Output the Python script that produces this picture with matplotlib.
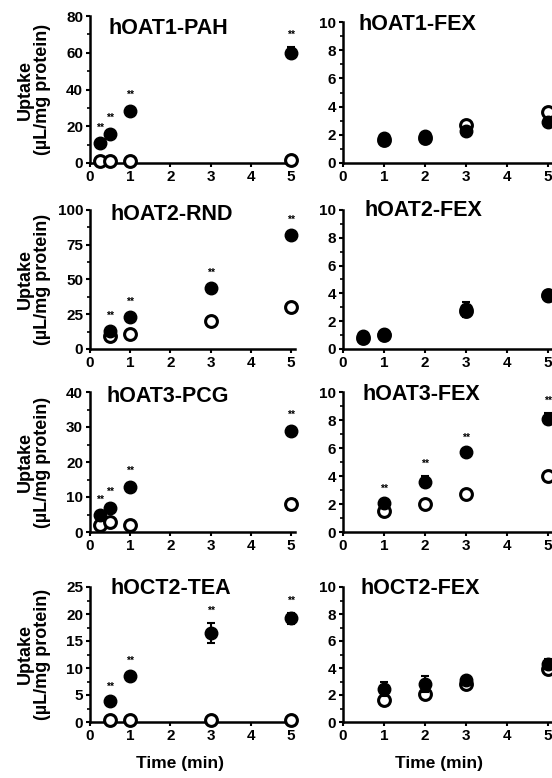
import matplotlib
matplotlib.use("Agg")
import matplotlib.pyplot as plt
from matplotlib.ticker import AutoMinorLocator

plt.rcParams["font.family"] = ["Liberation Sans", "DejaVu Sans"]
plt.rcParams["font.weight"] = "bold"

W, H = 552, 778

# ---- data ----
titles = ["hOAT1-PAH", "hOAT1-FEX", "hOAT2-RND", "hOAT2-FEX",
          "hOAT3-PCG", "hOAT3-FEX", "hOCT2-TEA", "hOCT2-FEX"]

oat1_pah_x = [0.25, 0.5, 1, 5]
oat1_pah_filled = [11, 16, 28.5, 60]
oat1_pah_filled_err = [1.5, 2, 2, 3]
oat1_pah_open = [1, 1, 1, 1.5]
oat1_pah_open_err = [0, 0, 0, 0]
oat1_pah_sig = [True, True, True, True]

oat1_fex_x = [1, 2, 3, 5]
oat1_fex_filled = [1.75, 1.9, 2.3, 2.9]
oat1_fex_filled_err = [0.2, 0.2, 0.2, 0.2]
oat1_fex_open = [1.6, 1.8, 2.7, 3.6]
oat1_fex_open_err = [0, 0, 0, 0]
oat1_fex_sig = [False, False, False, False]

oat2_rnd_x = [0.5, 1, 3, 5]
oat2_rnd_filled = [13, 23, 44, 82]
oat2_rnd_filled_err = [2, 2, 2, 2]
oat2_rnd_open = [9, 11, 20, 30]
oat2_rnd_open_err = [0, 0, 0, 0]
oat2_rnd_sig = [True, True, True, True]

oat2_fex_x = [0.5, 1, 3, 5]
oat2_fex_filled = [0.9, 1.05, 2.85, 3.8]
oat2_fex_filled_err = [0.1, 0.1, 0.55, 0.2]
oat2_fex_open = [0.8, 1.0, 2.7, 3.9]
oat2_fex_open_err = [0, 0, 0, 0]
oat2_fex_sig = [False, False, False, False]

oat3_pcg_x = [0.25, 0.5, 1, 5]
oat3_pcg_filled = [5, 7, 13, 29]
oat3_pcg_filled_err = [0.8, 1, 1, 1]
oat3_pcg_open = [2, 3, 2, 8]
oat3_pcg_open_err = [0, 0, 0, 1.5]
oat3_pcg_sig = [True, True, True, True]

oat3_fex_x = [1, 2, 3, 5]
oat3_fex_filled = [2.05, 3.6, 5.7, 8.1]
oat3_fex_filled_err = [0.2, 0.4, 0.2, 0.4]
oat3_fex_open = [1.5, 2.0, 2.7, 4.0]
oat3_fex_open_err = [0, 0, 0, 0.2]
oat3_fex_sig = [True, True, True, True]

oct2_tea_x = [0.5, 1, 3, 5]
oct2_tea_filled = [3.9, 8.6, 16.5, 19.2]
oct2_tea_filled_err = [0.4, 0.5, 1.8, 1.0]
oct2_tea_open = [0.3, 0.3, 0.3, 0.4]
oct2_tea_open_err = [0, 0, 0, 0]
oct2_tea_sig = [True, True, True, True]

oct2_fex_x = [1, 2, 3, 5]
oct2_fex_filled = [2.45, 2.8, 3.1, 4.3]
oct2_fex_filled_err = [0.5, 0.6, 0.2, 0.35]
oct2_fex_open = [1.6, 2.1, 2.8, 3.9]
oct2_fex_open_err = [0, 0, 0, 0]
oct2_fex_sig = [False, False, False, False]

y_max = [80, 10, 100, 10, 40, 10, 25, 10]
y_ticks = [
    [0, 20, 40, 60, 80], [0, 2, 4, 6, 8, 10],
    [0, 25, 50, 75, 100], [0, 2, 4, 6, 8, 10],
    [0, 10, 20, 30, 40], [0, 2, 4, 6, 8, 10],
    [0, 5, 10, 15, 20, 25], [0, 2, 4, 6, 8, 10],
]
x_ticks = [0, 1, 2, 3, 4, 5]

panels = [
    (oat1_pah_x, oat1_pah_filled, oat1_pah_filled_err, oat1_pah_open, oat1_pah_open_err, oat1_pah_sig),
    (oat1_fex_x, oat1_fex_filled, oat1_fex_filled_err, oat1_fex_open, oat1_fex_open_err, oat1_fex_sig),
    (oat2_rnd_x, oat2_rnd_filled, oat2_rnd_filled_err, oat2_rnd_open, oat2_rnd_open_err, oat2_rnd_sig),
    (oat2_fex_x, oat2_fex_filled, oat2_fex_filled_err, oat2_fex_open, oat2_fex_open_err, oat2_fex_sig),
    (oat3_pcg_x, oat3_pcg_filled, oat3_pcg_filled_err, oat3_pcg_open, oat3_pcg_open_err, oat3_pcg_sig),
    (oat3_fex_x, oat3_fex_filled, oat3_fex_filled_err, oat3_fex_open, oat3_fex_open_err, oat3_fex_sig),
    (oct2_tea_x, oct2_tea_filled, oct2_tea_filled_err, oct2_tea_open, oct2_tea_open_err, oct2_tea_sig),
    (oct2_fex_x, oct2_fex_filled, oct2_fex_filled_err, oct2_fex_open, oct2_fex_open_err, oct2_fex_sig),
]

# ---- layout in pixels ----
col_x = [(90, 295), (343, 552)]
row_y = [(16, 163), (210, 349), (392, 532), (587, 722)]
title_px = [(108, 28), (358, 25), (110, 215), (364, 210),
            (107, 397), (363, 395), (110, 589), (361, 589)]


def rect(x0, x1, top, bottom):
    return [x0 / W, 1 - bottom / H, (x1 - x0) / W, (bottom - top) / H]


fig = plt.figure(figsize=(W / 100, H / 100), dpi=100)

for i, (x, filled, ferr, opened, oerr, sig) in enumerate(panels):
    row, col = divmod(i, 2)
    top, bottom = row_y[row]
    if row == 0 and col == 1:
        top = 22
    ax = fig.add_axes(rect(*col_x[col], top, bottom))

    ax.errorbar(x, opened, yerr=oerr, fmt="o", ms=8.5, mfc="white", mec="black",
                mew=2.2, ecolor="black", elinewidth=1.5, capsize=3, capthick=1.5,
                clip_on=False, zorder=3)
    ax.errorbar(x, filled, yerr=ferr, fmt="o", ms=9, mfc="black", mec="black",
                ecolor="black", elinewidth=1.5, capsize=3, capthick=1.5,
                clip_on=False, zorder=4)
    for xi, yi, ei, s in zip(x, filled, ferr, sig):
        if s:
            ax.annotate("**", (xi, yi + ei), xytext=(0, 5), textcoords="offset points",
                        ha="center", va="bottom", fontsize=7.5, annotation_clip=False)

    ax.set_xlim(0, 5.1)
    ax.set_ylim(0, y_max[i])
    ax.set_xticks(x_ticks)
    ax.set_yticks(y_ticks[i])
    ax.yaxis.set_minor_locator(AutoMinorLocator(2))
    for side in ("top", "right"):
        ax.spines[side].set_visible(False)
    for side in ("left", "bottom"):
        ax.spines[side].set_linewidth(1.8)
    ax.tick_params(direction="out", length=3, width=1.5, labelsize=11, pad=2)
    ax.tick_params(which="minor", direction="out", length=2, width=1.2)

    tx, ty = title_px[i]
    fig.text(tx / W, 1 - ty / H, titles[i], ha="left", va="center",
             fontsize=15.5, fontweight="bold")

    if col == 0:
        ax.set_ylabel("Uptake\n(µL/mg protein)", fontsize=13, fontweight="bold",
                      linespacing=1.05)
        ax.yaxis.set_label_coords(-0.19, 0.5)
    if row == 3:
        ax.set_xlabel("Time (min)", fontsize=12.5, fontweight="bold")
        ax.xaxis.set_label_coords(0.44 if col == 0 else 0.46, -0.255)

fig.savefig("out.png", dpi=100)
